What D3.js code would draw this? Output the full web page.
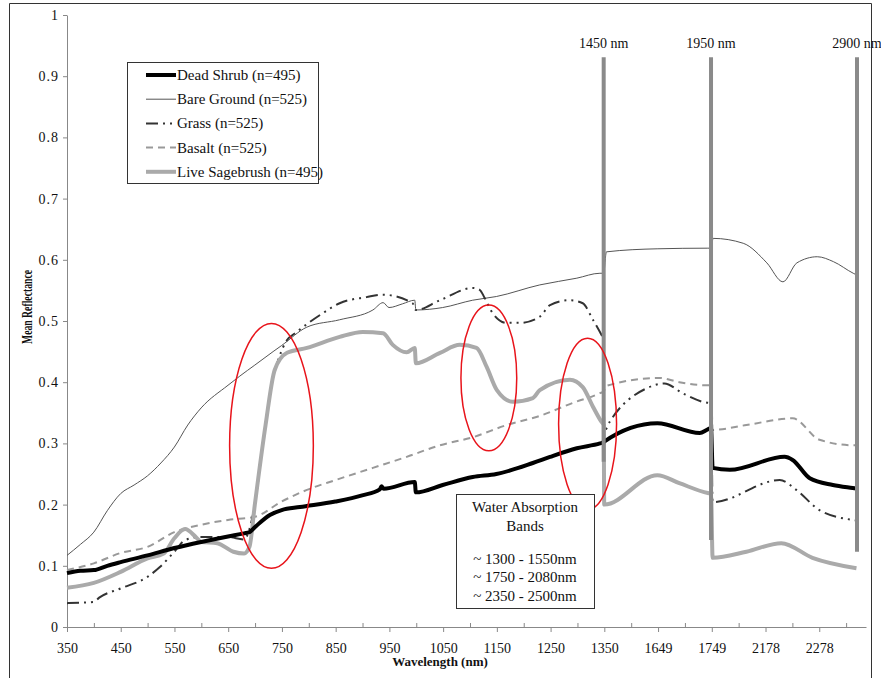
<!DOCTYPE html>
<html>
<head>
<meta charset="utf-8">
<script src="https://cdn.jsdelivr.net/npm/d3@7"></script>
<style>
  body { margin: 0; background: #fff; }
  svg text { font-family: "Liberation Serif", "Times New Roman", serif; fill: #111; }
</style>
</head>
<body>
<div id="chart"></div>
<script>
// wavelength (nm) -> channel index; the water bands are cut out of the axis
var bandWl  = [350, 1350, 1550, 1749, 2079, 2350];
var bandIdx = [0, 1000, 1001, 1200, 1201, 1472];

// x tick labels (every 100 channels), y ticks
var xTickLabels = ["350","450","550","650","750","850","950","1050","1150","1250","1350","1649","1749","2178","2278"];
var yTicks = [0, 0.1, 0.2, 0.3, 0.4, 0.5, 0.6, 0.7, 0.8, 0.9, 1];

// series: [wavelength, mean reflectance]
var deadShrub = [[350,0.088],[375,0.092],[400,0.093],[425,0.1],[450,0.106],[500,0.117],[550,0.129],[600,0.139],
  [650,0.148],[680,0.153],[690,0.155],[700,0.163],[728,0.183],[750,0.191],[784,0.196],[850,0.205],[900,0.215],
  [933,0.225],[936,0.23],[940,0.226],[998,0.237],[1000,0.22],[1050,0.232],[1106,0.245],[1150,0.25],[1218,0.268],
  [1250,0.278],[1300,0.292],[1343,0.3],[1350,0.302],[1550,0.303],[1649,0.333],[1728,0.317],[1743,0.323],[1749,0.325],
  [2081,0.26],[2113,0.257],[2215,0.278],[2230,0.273],[2262,0.243],[2305,0.232],[2342,0.227],[2350,0.226]];

var bareGround = [[350,0.117],[375,0.135],[400,0.155],[425,0.19],[450,0.218],[475,0.232],[500,0.247],[525,0.268],
  [550,0.294],[575,0.33],[600,0.358],[650,0.395],[672,0.41],[700,0.428],[734,0.45],[750,0.46],[797,0.49],[858,0.502],
  [920,0.518],[939,0.53],[950,0.522],[975,0.528],[998,0.534],[1000,0.518],[1050,0.522],[1106,0.534],[1150,0.54],
  [1231,0.559],[1300,0.57],[1343,0.578],[1350,0.578],[1554,0.613],[1650,0.618],[1743,0.619],[1749,0.619],
  [2082,0.635],[2138,0.627],[2182,0.595],[2212,0.564],[2238,0.595],[2276,0.605],[2306,0.597],[2343,0.578],[2350,0.575]];

var grass = [[350,0.039],[400,0.041],[410,0.048],[450,0.063],[500,0.082],[523,0.098],[550,0.123],[570,0.142],
  [598,0.147],[650,0.147],[680,0.143],[690,0.16],[700,0.2],[715,0.3],[730,0.39],[745,0.44],[760,0.469],[775,0.48],
  [827,0.513],[858,0.529],[908,0.539],[939,0.543],[994,0.529],[1000,0.518],[1045,0.534],[1106,0.554],[1119,0.551],
  [1128,0.538],[1143,0.513],[1169,0.497],[1194,0.497],[1231,0.507],[1250,0.526],[1287,0.534],[1311,0.529],
  [1330,0.502],[1346,0.477],[1350,0.47],[1550,0.32],[1560,0.335],[1629,0.39],[1662,0.398],[1696,0.382],[1733,0.368],
  [1749,0.365],[2081,0.204],[2206,0.24],[2237,0.224],[2280,0.191],[2342,0.175],[2350,0.174]];

var basalt = [[350,0.093],[400,0.104],[450,0.121],[500,0.131],[550,0.155],[600,0.167],[650,0.175],[700,0.18],
  [750,0.205],[797,0.224],[850,0.24],[920,0.26],[983,0.278],[1045,0.297],[1106,0.31],[1169,0.33],[1231,0.345],
  [1292,0.366],[1343,0.382],[1350,0.385],[1554,0.394],[1653,0.407],[1690,0.4],[1741,0.395],[1749,0.395],
  [2081,0.322],[2144,0.33],[2230,0.341],[2280,0.306],[2342,0.297],[2350,0.297]];

var sagebrush = [[350,0.064],[400,0.072],[450,0.09],[500,0.112],[530,0.12],[550,0.145],[570,0.16],[590,0.147],
  [600,0.139],[630,0.137],[660,0.123],[680,0.12],[690,0.131],[700,0.2],[720,0.33],[737,0.42],[760,0.448],[797,0.456],
  [858,0.474],[901,0.482],[939,0.48],[957,0.461],[983,0.449],[998,0.456],[1000,0.431],[1045,0.448],[1082,0.461],
  [1113,0.456],[1132,0.425],[1151,0.387],[1181,0.368],[1218,0.374],[1231,0.387],[1287,0.404],[1311,0.392],
  [1330,0.36],[1346,0.335],[1350,0.33],[1550,0.2],[1649,0.248],[1690,0.235],[1743,0.219],[1749,0.218],
  [2081,0.113],[2144,0.123],[2209,0.137],[2267,0.113],[2349,0.096]];

var seriesNames = ["Dead Shrub (n=495)","Bare Ground (n=525)","Grass (n=525)","Basalt (n=525)","Live Sagebrush (n=495)"];

// water band markers: wavelength on axis, top and bottom reflectance, label
var bandPos    = [1350, 1749, 2350];
var bandTop    = [0.931, 0.931, 0.931];
var bandBottom = [0.27, 0.142, 0.123];
var bandLabels = ["1450 nm", "1950 nm", "2900 nm"];

// red ellipses: centre wavelength, centre reflectance, half-width (channels), half-height (reflectance)
var ringWl  = [731, 1136, 1320];
var ringVal = [0.296, 0.407, 0.332];
var ringRx  = [78, 52, 54];
var ringRy  = [0.2, 0.119, 0.14];

var noteLines = ["Water Absorption", "Bands", "", "~ 1300 - 1550nm", "~ 1750 - 2080nm", "~ 2350 - 2500nm"];

// set up
var W = 881, H = 678;
var svg = d3.select("#chart").append("svg").attr("width", W).attr("height", H)
  .attr("font-family", "Liberation Serif, serif");

var toIdx = d3.scaleLinear().domain(bandWl).range(bandIdx);
var xi = d3.scaleLinear().domain([0, 1472]).range([67, 857]);
var x = function(wl) { return xi(toIdx(wl)); };
var y = d3.scaleLinear().domain([0, 1]).range([627, 15]);

// outer frame
svg.append("path")
  .attr("d", "M9.5,680 V3.5 H871.5 V680")
  .attr("fill", "none").attr("stroke", "#333").attr("stroke-width", 1);

// y axis
var yAxis = svg.append("g").attr("transform", "translate(67,0)")
  .call(d3.axisLeft(y).tickValues(yTicks).tickSize(4).tickSizeOuter(0)
    .tickFormat(function(d){ return d === 0 ? "0" : d === 1 ? "1" : d3.format(".1f")(d); }));
yAxis.attr("font-family", "Liberation Serif, serif");
yAxis.select(".domain").attr("stroke", "#888");
yAxis.selectAll(".tick line").attr("stroke", "#888");
yAxis.selectAll(".tick text").attr("font-size", 14).attr("x", -8).style("letter-spacing", "1px");

// x axis: labelled ticks point down, in-between ticks point up
var majorIdx = d3.range(0, 1401, 100);
var xAxis = svg.append("g").attr("transform", "translate(0,627)")
  .call(d3.axisBottom(d3.scaleLinear().domain([0, 1487]).range([67, 866]))
    .tickValues(majorIdx).tickSize(5).tickSizeOuter(0)
    .tickFormat(function(d, i){ return xTickLabels[i]; }));
xAxis.attr("font-family", "Liberation Serif, serif");
xAxis.select(".domain").attr("stroke", "#888");
xAxis.selectAll(".tick line").attr("stroke", "#888");
xAxis.selectAll(".tick text").attr("font-size", 14).attr("dy", "1.25em");
var minor = svg.append("g").attr("transform", "translate(0,627)")
  .call(d3.axisBottom(d3.scaleLinear().domain([0, 1487]).range([67, 866]))
    .tickValues(d3.range(50, 1451, 100)).tickSize(-4).tickFormat(""));
minor.select(".domain").remove();
minor.selectAll(".tick line").attr("stroke", "#888");

// axis titles
svg.append("text")
  .attr("x", 440).attr("y", 666)
  .attr("text-anchor", "middle")
  .attr("font-size", 13).attr("font-weight", "bold")
  .text("Wavelength (nm)");
svg.append("text")
  .attr("transform", "translate(32,307) rotate(-90)")
  .attr("text-anchor", "middle")
  .attr("font-size", 15).attr("font-weight", "bold")
  .attr("textLength", 74).attr("lengthAdjust", "spacingAndGlyphs")
  .text("Mean Reflectance");

// lines
var styles = [
  {data: deadShrub,  color: "#000",    width: 4,   dash: null},
  {data: bareGround, color: "#555",    width: 1,   dash: null},
  {data: grass,      color: "#333",    width: 2,   dash: "12,5,2,5,2,5"},
  {data: basalt,     color: "#999",    width: 2,   dash: "7,5"},
  {data: sagebrush,  color: "#aaa",    width: 4,   dash: null}
];
var line = d3.line()
  .x(function(d){ return x(d[0]); })
  .y(function(d){ return y(d[1]); })
  .curve(d3.curveMonotoneX);

var drawOrder = [1, 3, 2, 4, 0];
drawOrder.forEach(function(k) {
  var s = styles[k];
  svg.append("path")
    .datum(s.data)
    .attr("d", line)
    .attr("fill", "none")
    .attr("stroke", s.color)
    .attr("stroke-width", s.width)
    .attr("stroke-dasharray", s.dash)
    .attr("stroke-linejoin", "round");
});

// water band bars + labels
bandPos.forEach(function(wl, i) {
  svg.append("line")
    .attr("x1", x(wl)).attr("x2", x(wl))
    .attr("y1", y(bandTop[i])).attr("y2", y(bandBottom[i]))
    .attr("stroke", "#8a8a8a").attr("stroke-width", 4);
  svg.append("text")
    .attr("x", x(wl)).attr("y", 48)
    .attr("text-anchor", "middle")
    .attr("font-size", 14)
    .text(bandLabels[i]);
});

// red rings
ringWl.forEach(function(wl, i) {
  var cx = x(wl), cy = y(ringVal[i]);
  svg.append("ellipse")
    .attr("cx", cx).attr("cy", cy)
    .attr("rx", xi(ringRx[i]) - xi(0))
    .attr("ry", y(0) - y(ringRy[i]))
    .attr("fill", "none").attr("stroke", "#e8141b").attr("stroke-width", 1.5);
});

// note box
var note = svg.append("g");
note.append("rect")
  .attr("x", 456.5).attr("y", 494.5).attr("width", 138).attr("height", 114)
  .attr("fill", "#fff").attr("stroke", "#333").attr("stroke-width", 1);
note.selectAll("text").data(noteLines).enter().append("text")
  .attr("x", 525).attr("y", function(d, i){ return 512 + i * 18.5 - (i > 2 ? 4 : 0); })
  .attr("text-anchor", "middle")
  .attr("font-size", 15)
  .text(function(d){ return d; });

// legend
var legend = svg.append("g");
legend.append("rect")
  .attr("x", 127.5).attr("y", 62.5).attr("width", 191).attr("height", 121)
  .attr("fill", "#fff").attr("stroke", "#333").attr("stroke-width", 1);
seriesNames.forEach(function(name, i) {
  var s = styles[i];
  var ly = 75 + i * 24.2;
  legend.append("line")
    .attr("x1", 146).attr("x2", 176).attr("y1", ly).attr("y2", ly)
    .attr("stroke", s.color).attr("stroke-width", s.width)
    .attr("stroke-dasharray", s.dash);
  legend.append("text")
    .attr("x", 177).attr("y", ly + 5)
    .attr("font-size", 15)
    .text(name);
});
</script>
</body>
</html>
